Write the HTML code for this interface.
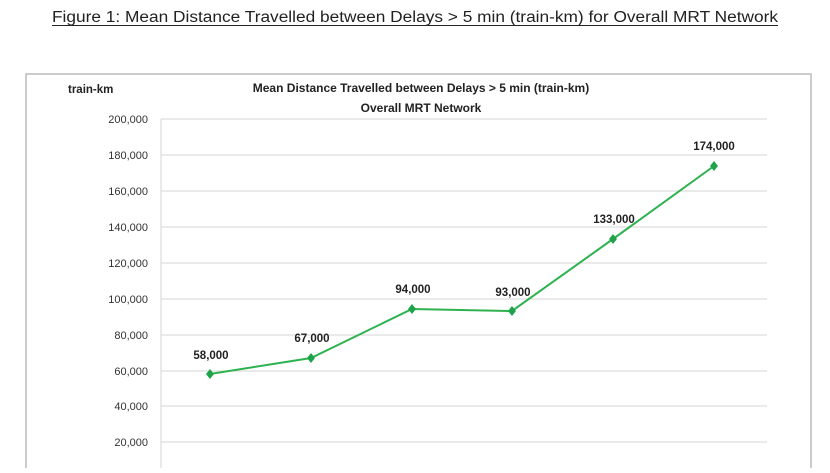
<!DOCTYPE html>
<html><head><style>
body{margin:0;width:830px;height:468px;background:#fff;overflow:hidden;font-family:"Liberation Sans",sans-serif}
</style></head><body>
<svg width="830" height="468" xmlns="http://www.w3.org/2000/svg" font-family="Liberation Sans, sans-serif">
<text x="52" y="22" font-size="15.5" fill="#222" textLength="726" lengthAdjust="spacingAndGlyphs">Figure 1: Mean Distance Travelled between Delays &gt; 5 min (train-km) for Overall MRT Network</text>
<line x1="52" y1="25.5" x2="778" y2="25.5" stroke="#222" stroke-width="1"/>
<rect x="26" y="74" width="785" height="420" fill="none" stroke="#bbb" stroke-width="1.5"/>
<text x="68" y="93" font-size="11.5" font-weight="bold" fill="#222">train-km</text>
<text x="421" y="92" text-anchor="middle" font-size="12" font-weight="bold" fill="#222">Mean Distance Travelled between Delays &gt; 5 min (train-km)</text>
<text x="421" y="112" text-anchor="middle" font-size="12" font-weight="bold" fill="#222">Overall MRT Network</text>
<g stroke="#d6d6d6" stroke-width="1">
<line x1="161" y1="119" x2="767" y2="119"/><line x1="161" y1="155" x2="767" y2="155"/>
<line x1="161" y1="191" x2="767" y2="191"/><line x1="161" y1="227" x2="767" y2="227"/>
<line x1="161" y1="263" x2="767" y2="263"/><line x1="161" y1="299" x2="767" y2="299"/>
<line x1="161" y1="335" x2="767" y2="335"/><line x1="161" y1="371" x2="767" y2="371"/>
<line x1="161" y1="406" x2="767" y2="406"/><line x1="161" y1="442" x2="767" y2="442"/>
<line x1="161" y1="119" x2="161" y2="468"/>
</g>
<g font-size="11" fill="#333" text-anchor="end">
<text x="148" y="123">200,000</text><text x="148" y="159">180,000</text><text x="148" y="195">160,000</text>
<text x="148" y="231">140,000</text><text x="148" y="267">120,000</text><text x="148" y="303">100,000</text>
<text x="148" y="339">80,000</text><text x="148" y="375">60,000</text><text x="148" y="410">40,000</text>
<text x="148" y="446">20,000</text>
</g>
<polyline points="210,374 311,358 412,309 512,311 613,239 714,166" fill="none" stroke="#2eb24f" stroke-width="2"/>
<g fill="#1fa34a">
<path d="M210,369 l4,5 l-4,5 l-4,-5z"/><path d="M311,353 l4,5 l-4,5 l-4,-5z"/>
<path d="M412,304 l4,5 l-4,5 l-4,-5z"/><path d="M512,306 l4,5 l-4,5 l-4,-5z"/>
<path d="M613,234 l4,5 l-4,5 l-4,-5z"/><path d="M714,161 l4,5 l-4,5 l-4,-5z"/>
</g>
<g font-size="11.5" font-weight="bold" fill="#222" text-anchor="middle">
<text x="211" y="359">58,000</text><text x="312" y="342">67,000</text><text x="413" y="293">94,000</text>
<text x="513" y="296">93,000</text><text x="614" y="223">133,000</text><text x="714" y="150">174,000</text>
</g>
</svg>
</body></html>
